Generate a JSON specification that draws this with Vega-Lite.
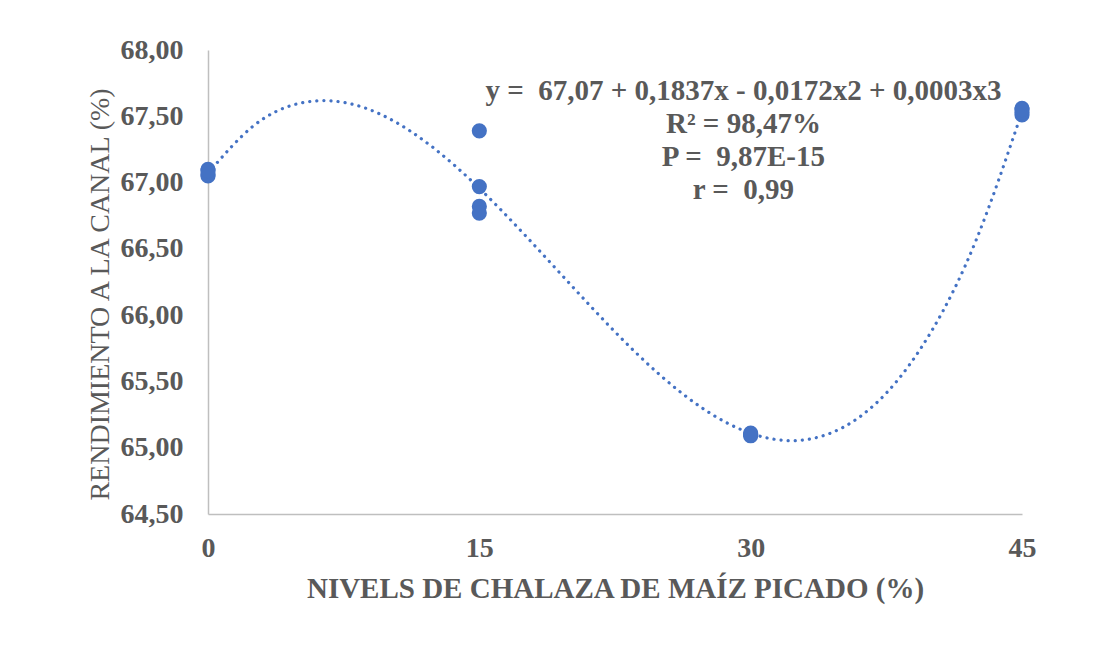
{
  "$schema": "https://vega.github.io/schema/vega-lite/v6.json",
  "width": 814,
  "height": 464,
  "autosize": "none",
  "padding": {"left": 208, "top": 50, "right": 80, "bottom": 141},
  "background": "white",
  "config": {
    "view": {"stroke": null},
    "locale": {"number": {"decimal": ",", "thousands": ".", "grouping": [3], "currency": ["", " €"]}}
  },
  "datasets": {
    "obs": [
      {"nivel": 0, "rend": 67.10}, {"nivel": 0, "rend": 67.05}, {"nivel": 0, "rend": 67.06}, {"nivel": 0, "rend": 67.09},
      {"nivel": 15, "rend": 67.39}, {"nivel": 15, "rend": 66.97}, {"nivel": 15, "rend": 66.82}, {"nivel": 15, "rend": 66.77},
      {"nivel": 30, "rend": 65.10}, {"nivel": 30, "rend": 65.11}, {"nivel": 30, "rend": 65.09}, {"nivel": 30, "rend": 65.10},
      {"nivel": 45, "rend": 67.56}, {"nivel": 45, "rend": 67.51}, {"nivel": 45, "rend": 67.53}, {"nivel": 45, "rend": 67.55}
    ],
    "curve": [
      {"nivel": 0, "rend": 67.070}, {"nivel": 2.5, "rend": 67.426}, {"nivel": 5, "rend": 67.596},
      {"nivel": 7.5, "rend": 67.605}, {"nivel": 10, "rend": 67.484}, {"nivel": 12.5, "rend": 67.258},
      {"nivel": 15, "rend": 66.957}, {"nivel": 17.5, "rend": 66.607}, {"nivel": 20, "rend": 66.237},
      {"nivel": 22.5, "rend": 65.874}, {"nivel": 25, "rend": 65.547}, {"nivel": 27.5, "rend": 65.283},
      {"nivel": 30, "rend": 65.109}, {"nivel": 32.5, "rend": 65.054}, {"nivel": 35, "rend": 65.146},
      {"nivel": 37.5, "rend": 65.412}, {"nivel": 40, "rend": 65.880}, {"nivel": 42.5, "rend": 66.578},
      {"nivel": 45, "rend": 67.534}
    ],
    "label": [
      {"nivel": 29.6, "rend": 67.80, "txt": ["y = \u00a067,07 + 0,1837x - 0,0172x2 + 0,0003x3", "R² = 98,47%", "P = \u00a09,87E-15", "r = \u00a00,99"]}
    ]
  },
  "layer": [
    {
      "data": {"name": "curve"},
      "mark": {"type": "line", "interpolate": "natural", "color": "#4472C4", "strokeWidth": 3.2, "strokeDash": [0.1, 7], "strokeCap": "round"},
      "encoding": {
        "x": {"field": "nivel", "type": "quantitative", "scale": {"domain": [0, 45]},
          "axis": {"values": [0, 15, 30, 45], "grid": false, "ticks": false, "domainColor": "#BFBFBF", "domainWidth": 1.5, "labelFlush": false,
            "labelFont": "Liberation Serif", "labelFontWeight": "bold", "labelFontSize": 28, "labelColor": "#595959", "labelPadding": 20,
            "title": "NIVELS DE CHALAZA DE MAÍZ PICADO (%)", "titleFont": "Liberation Serif", "titleFontWeight": "bold", "titleFontSize": 29, "titleColor": "#595959", "titlePadding": 12}},
        "y": {"field": "rend", "type": "quantitative", "scale": {"domain": [64.5, 68], "zero": false, "nice": false},
          "axis": {"values": [64.5, 65, 65.5, 66, 66.5, 67, 67.5, 68], "format": ".2f", "grid": false, "ticks": false, "domainColor": "#BFBFBF", "domainWidth": 1.5, "labelFlush": false,
            "labelFont": "Liberation Serif", "labelFontWeight": "bold", "labelFontSize": 28, "labelColor": "#595959", "labelPadding": 25,
            "title": "RENDIMIENTO A LA CANAL (%)", "titleFont": "Liberation Serif", "titleFontWeight": "normal", "titleFontSize": 28, "titleColor": "#595959", "titlePadding": 6, "titleY": 244}}
      }
    },
    {
      "data": {"name": "obs"},
      "mark": {"type": "circle", "color": "#4472C4", "opacity": 1, "size": 230},
      "encoding": {
        "x": {"field": "nivel", "type": "quantitative"},
        "y": {"field": "rend", "type": "quantitative"}
      }
    },
    {
      "data": {"name": "label"},
      "mark": {"type": "text", "font": "Liberation Serif", "fontWeight": "bold", "fontSize": 29, "color": "#595959", "align": "center", "baseline": "top", "lineHeight": 33},
      "encoding": {
        "x": {"field": "nivel", "type": "quantitative"},
        "y": {"field": "rend", "type": "quantitative"},
        "text": {"field": "txt"}
      }
    }
  ]
}
